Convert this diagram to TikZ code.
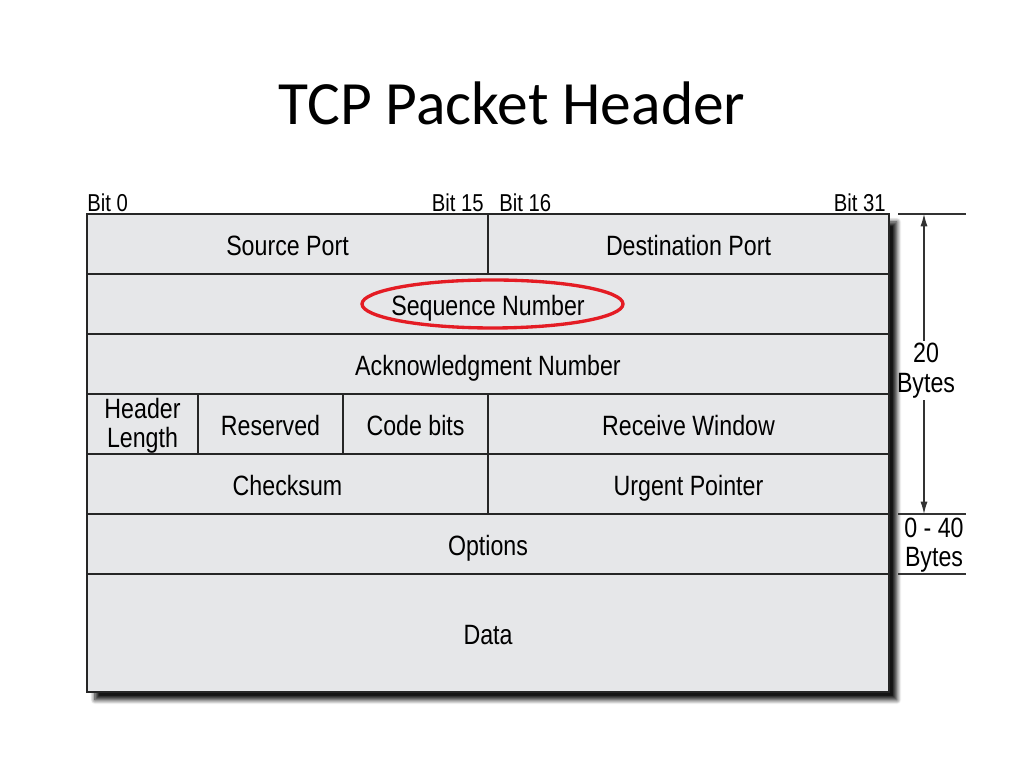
\documentclass[tikz,border=0pt]{standalone}
\usepackage{fontspec}
\setmainfont{Liberation Sans}
\newfontfamily\cellfont[FakeStretch=0.83]{Liberation Sans}
\newfontfamily\titlefont{Carlito}
\usetikzlibrary{positioning,shapes.geometric,shadows.blur,arrows.meta}
\definecolor{cellgray}{RGB}{230,231,233}
\definecolor{markred}{RGB}{228,28,36}
\begin{document}
\begin{tikzpicture}[>={Latex[length=7pt,width=4pt]}]

\tikzstyle{cell}=[draw=black!85, line width=0.7pt, inner sep=0pt, outer sep=0pt, minimum height=1.2cm, text centered, text height=14pt, text depth=0.5pt, anchor=north west, font=\cellfont\fontsize{15.9}{16.5}\selectfont]
\tikzstyle{bitlbl}=[inner sep=0pt, font=\cellfont\fontsize{13.9}{14}\selectfont]
\tikzstyle{sizelbl}=[align=center, inner sep=1pt, font=\cellfont\fontsize{15.9}{16.8}\selectfont]
\tikzstyle{rule}=[line width=0.6pt, black!80]

\useasboundingbox (0,0) rectangle (20.48,15.36);

% title
\node(title)[font=\titlefont\fontsize{35}{40}\selectfont] at (10.24,13.3) {TCP Packet Header};

% frame with shadow
\node(frame)[draw=black!85, line width=0.7pt, fill=cellgray, inner sep=0pt, outer sep=0pt, minimum width=16.04cm, minimum height=9.56cm, anchor=north west, blur shadow={shadow xshift=4.5pt, shadow yshift=-4.5pt, shadow blur steps=8, shadow blur radius=2.5pt, shadow opacity=92}] at (1.74,11.08) {};

% header rows
\node(src)[cell, minimum width=8.02cm] at (frame.north west) {Source Port};
\node(dst)[cell, minimum width=8.02cm] at (src.north east) {Destination Port};
\node(seq)[cell, minimum width=16.04cm] at (src.south west) {Sequence Number};
\node(ack)[cell, minimum width=16.04cm] at (seq.south west) {Acknowledgment Number};
\node(hlen)[cell, minimum width=2.22cm] at (ack.south west) {};
\node(hlent)[align=center, inner sep=0pt, font=\cellfont\fontsize{15.9}{16.3}\selectfont] at ([yshift=-0.04cm]hlen.center) {Header\\Length};
\node(res)[cell, minimum width=2.9cm] at (hlen.north east) {Reserved};
\node(code)[cell, minimum width=2.9cm] at (res.north east) {Code bits};
\node(rwin)[cell, minimum width=8.02cm] at (code.north east) {Receive Window};
\node(chk)[cell, minimum width=8.02cm] at (hlen.south west) {Checksum};
\node(urg)[cell, minimum width=8.02cm] at (chk.north east) {Urgent Pointer};
\node(opt)[cell, minimum width=16.04cm] at (chk.south west) {Options};
\node(data)[cell, minimum width=16.04cm, minimum height=2.36cm] at (opt.south west) {Data};

% red mark
\node(seqmark)[ellipse, draw=markred, line width=1.9pt, minimum width=5.22cm, minimum height=0.96cm, xshift=0.09cm] at (seq.center) {};

% bit numbers
\node(b0)[bitlbl, anchor=base west] at (1.74,11.12) {Bit 0};
\node(b15)[bitlbl, anchor=base east] at (9.68,11.12) {Bit 15};
\node(b16)[bitlbl, anchor=base west] at (9.98,11.12) {Bit 16};
\node(b31)[bitlbl, anchor=base east] at (17.72,11.12) {Bit 31};

% sizes
\coordinate(ttop) at (18.48,11.08);
\coordinate(tmid) at (18.48,5.08);
\draw[rule] (17.96,11.08) -- (19.32,11.08);
\draw[rule] (17.96,5.08) -- (19.32,5.08);
\draw[rule] (17.96,3.88) -- (19.32,3.88);
\node(fixed)[sizelbl] at (18.52,7.95) {20\\Bytes};
\draw[rule,->] (fixed.north -| ttop) -- (ttop);
\draw[rule,->] (fixed.south -| tmid) -- (tmid);
\node(optsz)[sizelbl] at (18.68,4.46) {0 - 40\\Bytes};

\end{tikzpicture}
\end{document}
